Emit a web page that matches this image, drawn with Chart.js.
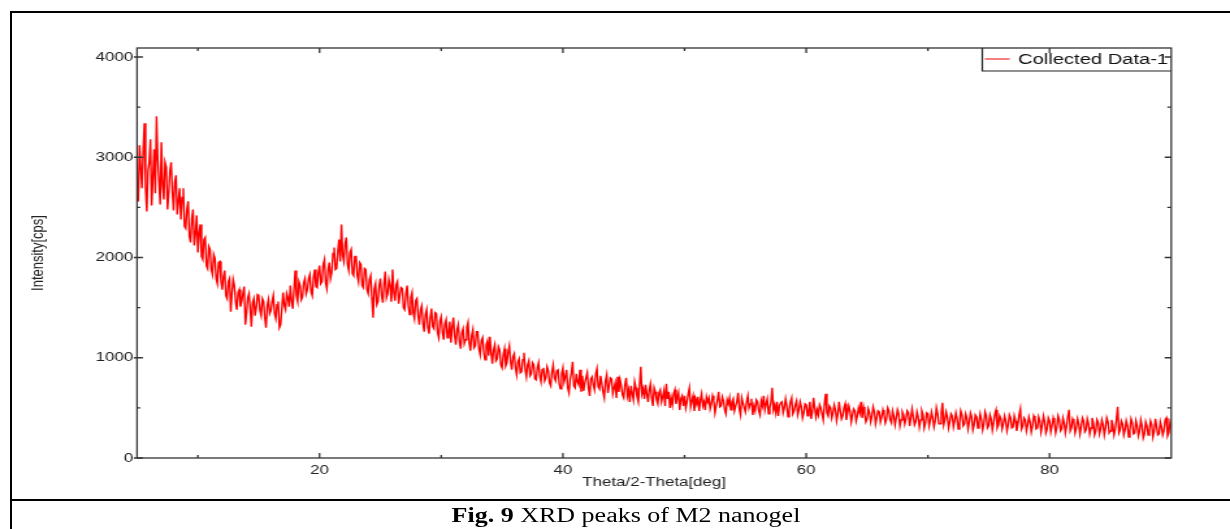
<!DOCTYPE html>
<html>
<head>
<meta charset="utf-8">
<script src="https://cdn.jsdelivr.net/npm/chart.js@4.4.1/dist/chart.umd.min.js"></script>
<style>
  html, body { margin: 0; padding: 0; background: #fff; }
  body { width: 1230px; height: 529px; position: relative; overflow: hidden; }
  #wrap { position: absolute; left: 0; top: 0; width: 946px; height: 529px; transform: scaleX(1.3002); transform-origin: 0 0; }
  .rule { position: absolute; background: #000; }
  #caption {
    position: absolute; left: 11px; top: 505px; width: 1230px; text-align: center;
    font-family: "Liberation Serif", "Times New Roman", serif; font-size: 20px; line-height: 20px;
    color: #000; white-space: nowrap; transform: scaleX(1.3); transform-origin: center;
  }
</style>
</head>
<body>
<div id="wrap"><canvas id="xrd" width="946" height="529"></canvas></div>
<div class="rule" style="left:10px;top:11px;width:1220px;height:2px"></div>
<div class="rule" style="left:10px;top:11px;width:2px;height:518px"></div>
<div class="rule" style="left:10px;top:499px;width:1220px;height:2px"></div>
<div id="caption"><b>Fig. 9</b> XRD peaks of M2 nanogel</div>

<script>
// 2-theta grid: 5.0 .. 90.0 deg, 0.1 deg step
const twoThetaStart = 5;
const twoThetaStep = 0.1;

// intensity [cps], one row per degree
const intensity5to20 = [
  2780, 2560, 3120, 2900, 2690, 3050, 3340, 2700, 2460, 2870,
  2950, 3180, 2520, 2800, 3080, 2640, 3410, 2980, 2760, 2530,
  3150, 2720, 2580, 2950, 2900, 2480, 2640, 2860, 2950, 2660,
  2470, 2750, 2820, 2430, 2560, 2690, 2380, 2600, 2690, 2310,
  2290, 2480, 2560, 2210, 2150, 2390, 2480, 2120, 2240, 2420,
  2050, 2250, 2330, 2010, 1980, 2180, 2200, 1920, 1890, 2110,
  2080, 1880, 1830, 2030, 1990, 1790, 1740, 1950, 1960, 1760,
  1680, 1810, 1870, 1620, 1590, 1760, 1790, 1460, 1640, 1780,
  1720, 1560, 1480, 1650, 1680, 1510, 1560, 1640, 1710, 1330,
  1450, 1600, 1640, 1490, 1310, 1550, 1590, 1420, 1500, 1630,
  1620, 1470, 1420, 1590, 1560, 1400, 1300, 1520, 1580, 1440,
  1470, 1560, 1620, 1440, 1390, 1530, 1560, 1300, 1330, 1490,
  1650, 1520, 1480, 1640, 1600, 1510, 1720, 1570, 1490, 1680,
  1870, 1620, 1560, 1760, 1720, 1580, 1610, 1750, 1790, 1640,
  1680, 1790, 1830, 1660, 1620, 1800, 1880, 1710, 1700, 1850
];
const intensity20to40 = [
  1920, 1740, 1760, 1930, 1980, 1750, 1690, 1880, 1950, 1790,
  1850, 2040, 2100, 1880, 1890, 2060, 2180, 1960, 2330, 2020,
  1960, 2140, 2200, 1930, 1870, 2050, 2080, 1840, 1820, 2010,
  2010, 1820, 1760, 1950, 1930, 1720, 1700, 1890, 1880, 1680,
  1640, 1780, 1820, 1600, 1400, 1690, 1740, 1530, 1560, 1720,
  1790, 1620, 1550, 1740, 1860, 1600, 1640, 1780, 1720, 1560,
  1880, 1650, 1570, 1730, 1760, 1540, 1620, 1700, 1690, 1500,
  1480, 1640, 1720, 1520, 1430, 1600, 1650, 1450, 1390, 1570,
  1590, 1420, 1330, 1480, 1520, 1340, 1260, 1430, 1480, 1300,
  1240, 1400, 1490, 1310, 1290, 1450, 1440, 1250, 1200, 1370,
  1410, 1260, 1180, 1340, 1380, 1200, 1250, 1360, 1150, 1310,
  1400, 1220, 1130, 1280, 1330, 1160, 1090, 1250, 1290, 1140,
  1180, 1300, 1350, 1150, 1070, 1220, 1280, 1100, 1120, 1260,
  1260, 1090, 1030, 1170, 1200, 1050, 980, 1130, 1170, 1020,
  1210, 1050, 940, 1080, 1130, 970, 990, 1110, 1080, 930,
  900, 1030, 1090, 920, 950, 1060, 1120, 960, 880, 1010,
  1040, 900, 830, 960, 990, 850, 860, 980, 1050, 880,
  810, 930, 970, 820, 840, 950, 930, 790, 780, 900,
  950, 820, 760, 880, 900, 770, 800, 910, 870, 750,
  720, 860, 930, 800, 770, 870, 880, 740, 690, 840
];
const intensity40to60 = [
  900, 760, 810, 880, 700, 650, 790, 850, 960, 720,
  700, 840, 760, 730, 880, 660, 820, 670, 750, 800,
  850, 700, 620, 790, 810, 730, 680, 840, 890, 710,
  690, 820, 740, 660, 600, 770, 830, 650, 720, 800,
  790, 640, 700, 750, 600, 810, 660, 780, 720, 630,
  600, 730, 800, 620, 680, 560, 720, 640, 580, 760,
  700, 610, 560, 720, 910, 640, 690, 590, 730, 640,
  560, 680, 740, 600, 520, 700, 660, 580, 540, 650,
  680, 560, 610, 670, 520, 740, 590, 660, 500, 600,
  530, 640, 680, 540, 600, 650, 480, 590, 620, 520,
  620, 500, 560, 640, 700, 510, 570, 620, 470, 590,
  540, 610, 470, 580, 640, 520, 560, 480, 610, 560,
  600, 490, 540, 620, 570, 450, 520, 580, 660, 510,
  520, 610, 570, 480, 440, 580, 540, 600, 480, 560,
  590, 470, 520, 560, 650, 490, 430, 600, 550, 500,
  460, 560, 620, 500, 540, 590, 430, 520, 470, 580,
  560, 470, 430, 570, 520, 620, 480, 540, 590, 440,
  500, 560, 700, 480, 530, 450, 560, 420, 520, 550,
  560, 450, 500, 590, 520, 410, 480, 560, 600, 440,
  470, 530, 570, 430, 480, 560, 510, 400, 450, 540
];
const intensity60to90 = [
  530, 420, 470, 560, 390, 460, 600, 500, 410, 480,
  430, 530, 500, 440, 380, 540, 640, 450, 420, 520,
  500, 400, 450, 530, 480, 370, 440, 560, 470, 390,
  420, 500, 540, 380, 450, 520, 470, 360, 430, 490,
  470, 370, 420, 500, 450, 560, 400, 510, 440, 360,
  390, 490, 450, 360, 420, 510, 460, 340, 400, 470,
  460, 360, 410, 480, 430, 350, 390, 500, 470, 380,
  350, 470, 420, 330, 400, 480, 440, 320, 380, 460,
  430, 340, 390, 470, 450, 320, 400, 490, 410, 330,
  360, 460, 410, 310, 380, 470, 430, 300, 350, 450,
  440, 320, 380, 460, 400, 310, 370, 500, 440, 340,
  340, 450, 550, 330, 380, 460, 410, 300, 360, 440,
  420, 310, 370, 450, 390, 290, 350, 470, 430, 320,
  340, 440, 400, 290, 360, 450, 410, 280, 330, 430,
  410, 300, 360, 440, 380, 280, 340, 460, 420, 300,
  320, 430, 390, 280, 350, 440, 480, 300, 330, 420,
  390, 290, 340, 420, 370, 270, 330, 430, 400, 300,
  310, 420, 370, 270, 340, 430, 490, 290, 320, 400,
  380, 270, 330, 410, 360, 260, 320, 420, 390, 290,
  300, 410, 370, 260, 330, 420, 360, 250, 290, 400,
  370, 260, 320, 400, 350, 250, 310, 420, 380, 270,
  290, 400, 350, 250, 320, 410, 480, 270, 300, 390,
  360, 250, 300, 390, 340, 240, 310, 400, 370, 260,
  280, 390, 340, 240, 300, 400, 350, 230, 270, 380,
  350, 240, 290, 380, 330, 230, 300, 400, 360, 250,
  270, 380, 330, 230, 290, 390, 510, 250, 280, 370,
  340, 230, 280, 370, 320, 210, 280, 390, 350, 240,
  250, 370, 320, 220, 270, 380, 320, 200, 240, 360,
  320, 230, 280, 370, 330, 210, 270, 390, 310, 230,
  240, 360, 310, 230, 270, 380, 400, 220, 250, 350,
  300
];

const seriesLabel = 'Collected Data-1';
const xMajorTicks = [20, 40, 60, 80];
const xMinorTicks = [10, 30, 50, 70];
const yMajorTicks = [0, 1000, 2000, 3000, 4000];
const yMinorTicks = [500, 1500, 2500, 3500];

const intensity = [].concat(intensity5to20, intensity20to40, intensity40to60, intensity60to90);
const points = intensity.map((v, i) => ({ x: +(twoThetaStart + i * twoThetaStep).toFixed(2), y: v }));

Chart.defaults.font.family = '"Liberation Sans", Arial, sans-serif';

// box, in-pointing ticks and the legend box, drawn like the original software does
const frame = {
  id: 'frame',
  afterDatasetsDraw(chart) {
    const { ctx, chartArea: a, scales: { x, y } } = chart;
    ctx.save();

    const lx = 755.5, lb = 71;
    ctx.fillStyle = '#fff';
    ctx.fillRect(lx, a.top, a.right - lx, lb - a.top);
    ctx.strokeStyle = '#222';
    ctx.lineWidth = 1.2;
    ctx.beginPath();
    ctx.moveTo(lx, a.top); ctx.lineTo(lx, lb); ctx.lineTo(a.right, lb);
    ctx.stroke();
    ctx.strokeStyle = 'rgb(240,95,95)';
    ctx.lineWidth = 1.6;
    ctx.beginPath();
    ctx.moveTo(757.5, 59); ctx.lineTo(776.5, 59);
    ctx.stroke();
    ctx.fillStyle = '#111';
    ctx.font = '15.5px "Liberation Sans", Arial, sans-serif';
    ctx.textBaseline = 'middle';
    ctx.fillText(chart.data.datasets[0].label, 783, 59.5);

    ctx.strokeStyle = '#333';
    ctx.lineWidth = 1.3;
    ctx.strokeRect(a.left, a.top, a.right - a.left, a.bottom - a.top);

    ctx.beginPath();
    const seg = (x1, y1, x2, y2) => { ctx.moveTo(x1, y1); ctx.lineTo(x2, y2); };
    xMajorTicks.forEach(v => {
      const px = x.getPixelForValue(v);
      seg(px, a.bottom, px, a.bottom - 5);
      seg(px, a.top, px, a.top + 5);
    });
    xMinorTicks.forEach(v => {
      const px = x.getPixelForValue(v);
      seg(px, a.bottom, px, a.bottom - 3);
      seg(px, a.top, px, a.top + 3);
    });
    yMajorTicks.forEach(v => {
      const py = y.getPixelForValue(v);
      seg(a.left - 2.5, py, a.left + 4.5, py);
      seg(a.right - 5, py, a.right, py);
    });
    yMinorTicks.forEach(v => {
      const py = y.getPixelForValue(v);
      seg(a.left, py, a.left + 2.5, py);
      seg(a.right - 3, py, a.right, py);
    });
    ctx.stroke();
    ctx.restore();
  }
};

new Chart(document.getElementById('xrd'), {
  type: 'line',
  data: {
    datasets: [{
      label: seriesLabel,
      data: points,
      borderColor: '#ff0000',
      borderWidth: 1.4,
      pointRadius: 0,
      tension: 0
    }]
  },
  options: {
    responsive: false,
    devicePixelRatio: 1,
    animation: false,
    layout: { padding: { top: 48, right: 45.2, bottom: 0, left: 0 } },
    plugins: { legend: { display: false }, tooltip: { enabled: false } },
    scales: {
      x: {
        type: 'linear', min: 5, max: 90,
        grid: { display: false, drawTicks: false },
        border: { display: false },
        afterBuildTicks: s => { s.ticks = xMajorTicks.map(v => ({ value: v })); },
        afterFit: s => { s.height = 71; },
        ticks: { padding: 5, color: '#222', font: { size: 13 }, maxRotation: 0, callback: v => String(v) },
        title: { display: true, text: 'Theta/2-Theta[deg]', color: '#222', font: { size: 13 }, padding: { top: 0, bottom: 39 } }
      },
      y: {
        type: 'linear', min: 0, max: 4090,
        grid: { display: false, drawTicks: false },
        border: { display: false },
        afterBuildTicks: s => { s.ticks = yMajorTicks.map(v => ({ value: v })); },
        afterFit: s => { s.width = 105.4; },
        ticks: { padding: 3, color: '#222', font: { size: 13 }, callback: v => String(v) },
        title: { display: true, text: 'Intensity[cps]', color: '#222', font: { size: 13 }, padding: { top: 21.8, bottom: 0 } }
      }
    }
  },
  plugins: [frame]
});
</script>
</body>
</html>
